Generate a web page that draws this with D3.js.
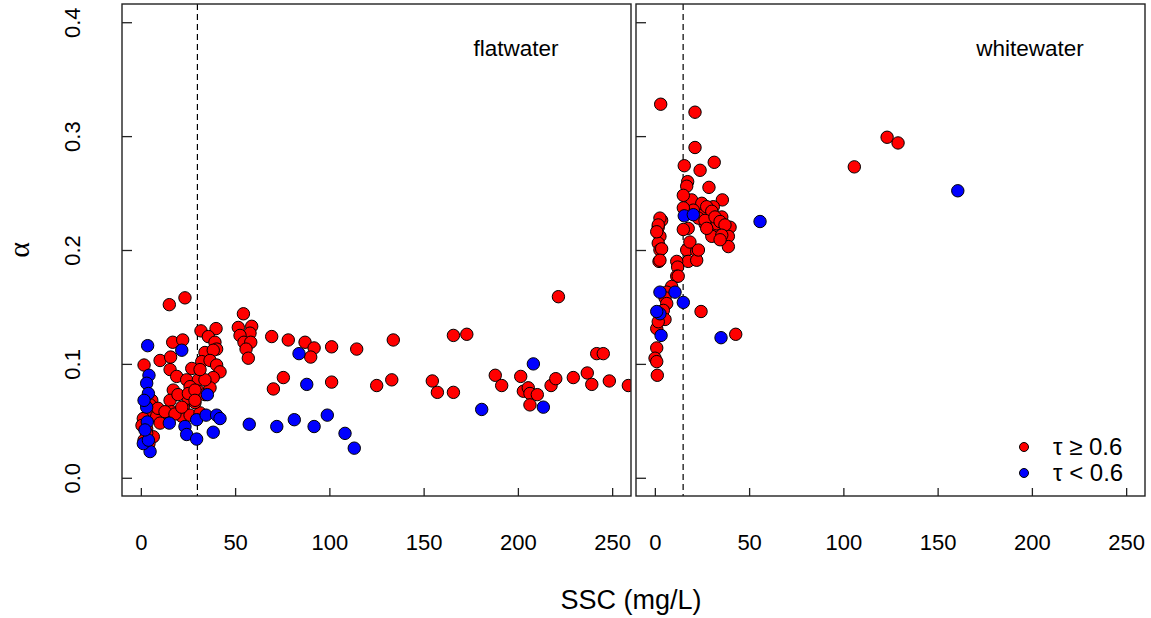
<!DOCTYPE html>
<html>
<head>
<meta charset="utf-8">
<script src="https://cdn.jsdelivr.net/npm/d3@7"></script>
<style>
  body { margin: 0; background: #fff; }
  text { font-family: "Liberation Sans", Arial, sans-serif; fill: #000; }
</style>
</head>
<body>
<div id="chart"></div>
<script>
// [SSC (mg/L), alpha] pairs
const flatHigh = [
  [15.1,0.152],[23.4,0.158],[54.4,0.144],[31.9,0.129],[39.9,0.131],[51.7,0.132],[58.8,0.133],[57.9,0.127],
  [52.6,0.125],[54.7,0.119],[58.3,0.119],[55.8,0.113],[57.0,0.105],[16.9,0.119],[22.2,0.121],[1.7,0.099],
  [10.2,0.103],[15.8,0.106],[35.8,0.124],[39.3,0.119],[40.2,0.113],[34.0,0.110],[38.4,0.112],[32.3,0.102],
  [36.7,0.103],[40.2,0.099],[27.0,0.096],[42.0,0.093],[15.5,0.095],[19.0,0.089],[24.3,0.086],[30.5,0.086],
  [38.4,0.088],[17.2,0.077],[26.1,0.080],[30.5,0.076],[5.8,0.068],[15.5,0.068],[22.5,0.062],[5.8,0.058],
  [11.9,0.057],[16.4,0.058],[1.3,0.052],[8.4,0.054],[21.7,0.054],[3.1,0.043],[6.6,0.036],[3.1,0.039],
  [0.6,0.046],[1.7,0.033],[4.3,0.030],[4.9,0.064],[9.1,0.061],[12.8,0.058],[18.1,0.056],[26.1,0.055],
  [31.4,0.057],[28.7,0.066],[25.0,0.070],[19.7,0.073],[34.0,0.073],[36.7,0.079],[34.0,0.086],[31.4,0.095],
  [25.2,0.074],[28.7,0.077],[28.7,0.068],[21.7,0.062],[10.2,0.048],
  [69.4,0.124],[78.2,0.121],[87.1,0.119],[91.9,0.114],[90.1,0.106],[101.2,0.115],[114.5,0.113],[133.9,0.121],
  [75.6,0.088],[70.3,0.078],[101.2,0.084],[125.1,0.081],[133.1,0.086],[154.6,0.085],[157.3,0.075],[221.5,0.159],
  [165.8,0.125],[172.9,0.126],[241.8,0.109],[245.3,0.109],[165.8,0.075],[188.0,0.090],[191.4,0.081],[201.5,0.089],
  [202.9,0.076],[205.5,0.079],[206.4,0.074],[210.3,0.073],[206.4,0.064],[217.6,0.081],[220.1,0.087],[229.4,0.088],
  [236.8,0.092],[239.2,0.082],[248.5,0.085],[258.6,0.081]
];
const flatLow = [
  [3.6,0.116],[21.7,0.112],[4.3,0.090],[3.1,0.083],[4.0,0.074],[3.1,0.062],[35.3,0.073],[3.4,0.049],
  [15.1,0.048],[23.4,0.045],[29.6,0.051],[34.6,0.055],[40.2,0.055],[42.0,0.052],[24.3,0.038],[29.6,0.034],
  [38.4,0.040],[57.5,0.047],[4.9,0.023],[1.3,0.030],[4.0,0.033],[1.7,0.068],[2.2,0.042],[83.9,0.109],
  [88.0,0.082],[72.1,0.045],[81.4,0.051],[91.9,0.045],[98.9,0.055],[108.3,0.039],[113.2,0.026],[208.2,0.100],
  [180.8,0.060],[213.5,0.062]
];
const whiteHigh = [
  [3.1,0.328],[21.3,0.321],[21.3,0.290],[15.6,0.274],[24.0,0.270],[31.5,0.277],[17.4,0.260],[16.9,0.256],
  [28.7,0.255],[35.8,0.244],[19.5,0.244],[15.1,0.248],[3.6,0.226],[1.8,0.220],[2.7,0.212],[1.8,0.206],
  [2.7,0.200],[2.2,0.190],[16.9,0.200],[22.2,0.199],[17.7,0.190],[22.2,0.191],[11.6,0.190],[12.1,0.185],
  [11.6,0.177],[25.7,0.234],[31.0,0.238],[35.5,0.229],[39.9,0.220],[39.0,0.212],[30.2,0.215],[32.8,0.223],
  [26.6,0.223],[39.0,0.203],[30.2,0.212],[24.9,0.241],[27.5,0.238],[30.2,0.234],[20.4,0.235],[15.1,0.237],
  [23.1,0.228],[26.6,0.226],[31.9,0.229],[34.6,0.225],[37.2,0.222],[27.5,0.219],[35.5,0.213],[34.6,0.209],
  [17.7,0.219],[15.1,0.218],[18.6,0.207],[23.1,0.200],[12.4,0.177],[8.9,0.168],[6.3,0.163],[5.4,0.158],
  [6.3,0.153],[4.5,0.147],[5.4,0.139],[1.0,0.131],[1.8,0.137],[24.5,0.146],[1.0,0.114],[0.1,0.105],
  [1.0,0.102],[1.3,0.090],[42.9,0.126],[123.2,0.299],[129.0,0.294],[105.8,0.273],[2.7,0.228],[1.8,0.222],
  [1.0,0.216],[3.6,0.201],[2.7,0.191]
];
const whiteLow = [
  [15.6,0.230],[20.4,0.231],[2.7,0.163],[10.7,0.163],[15.1,0.154],[2.7,0.144],[1.0,0.146],[3.3,0.125],
  [35.1,0.123],[160.7,0.252],[55.8,0.225]
];

const xTicks = [0, 50, 100, 150, 200, 250];
const yTicks = [0.0, 0.1, 0.2, 0.3, 0.4];
const panelNames = ["flatwater", "whitewater"];
const thresholds = [30, 15];          // dashed reference line, mg/L
const legendLabels = ["\u03c4 \u2265 0.6", "\u03c4 < 0.6"];
const highColor = "#ff0000", lowColor = "#0000ff";

const W = 1151, H = 618;
const plotTop = 4, plotBottom = 496;
const panels = [
  { left: 122, right: 631, labelX: 516, name: panelNames[0], high: flatHigh, low: flatLow, thr: thresholds[0] },
  { left: 636, right: 1145, labelX: 1030, name: panelNames[1], high: whiteHigh, low: whiteLow, thr: thresholds[1] }
];

const svg = d3.select("#chart").append("svg")
    .attr("width", W)
    .attr("height", H);

// shared y scale (R style 4% padding around 0..0.4)
const y = d3.scaleLinear().domain([-0.016, 0.416]).range([plotBottom, plotTop]);

panels.forEach((p, i) => {
    const x = d3.scaleLinear().domain([-10, 260]).range([p.left, p.right]);
    const g = svg.append("g");

    g.append("clipPath").attr("id", "clip" + i)
        .append("rect")
        .attr("x", p.left).attr("y", plotTop)
        .attr("width", p.right - p.left).attr("height", plotBottom - plotTop);

    // x axis, ticks pointing inward
    const xa = g.append("g")
        .attr("transform", `translate(0,${plotBottom})`)
        .call(d3.axisBottom(x).tickValues(xTicks).tickSizeInner(-8).tickSizeOuter(0).tickPadding(38));
    xa.select(".domain").remove();
    xa.selectAll("line").attr("stroke", "#222").attr("stroke-width", 1.3);
    xa.selectAll("text").style("font-size", "22px").attr("fill", "#000");

    // y axis
    const ya = g.append("g")
        .attr("transform", `translate(${p.left},0)`)
        .call(d3.axisLeft(y).tickValues(yTicks).tickSizeInner(-10).tickSizeOuter(0)
            .tickFormat(i === 0 ? d3.format(".1f") : ""));
    ya.select(".domain").remove();
    ya.selectAll("line").attr("stroke", "#222").attr("stroke-width", 1.3);
    ya.selectAll("text")
        .attr("x", null)
        .attr("dy", "0.35em")
        .attr("transform", "translate(-50,0) rotate(-90)")
        .attr("text-anchor", "middle")
        .style("font-size", "22px")
        .attr("fill", "#000");

    // dashed threshold
    g.append("line")
        .attr("x1", x(p.thr)).attr("x2", x(p.thr))
        .attr("y1", plotTop).attr("y2", plotBottom)
        .attr("stroke", "#000")
        .attr("stroke-width", 1.2)
        .attr("stroke-dasharray", "6,4");

    // points
    const pts = g.append("g").attr("clip-path", `url(#clip${i})`);
    const all = p.high.map(d => ({ v: d, c: highColor }))
        .concat(p.low.map(d => ({ v: d, c: lowColor })));
    pts.selectAll("circle")
        .data(all)
        .join("circle")
        .attr("cx", d => x(d.v[0]))
        .attr("cy", d => y(d.v[1]))
        .attr("r", 6.2)
        .attr("fill", d => d.c)
        .attr("stroke", "#000")
        .attr("stroke-width", 1);

    // box
    g.append("rect")
        .attr("x", p.left).attr("y", plotTop)
        .attr("width", p.right - p.left).attr("height", plotBottom - plotTop)
        .attr("fill", "none")
        .attr("stroke", "#222")
        .attr("stroke-width", 1.4);

    // panel label
    g.append("text")
        .attr("x", p.labelX)
        .attr("y", 56)
        .attr("text-anchor", "middle")
        .style("font-size", "22.5px")
        .text(p.name);
});

// axis titles
svg.append("text")
    .attr("x", 631)
    .attr("y", 609)
    .attr("text-anchor", "middle")
    .style("font-size", "27px")
    .text("SSC (mg/L)");

svg.append("text")
    .attr("transform", "translate(18,250) rotate(-90)")
    .attr("text-anchor", "middle")
    .attr("dy", "0.35em")
    .style("font-size", "30px")
    .style("font-family", "'Liberation Serif', serif")
    .text("\u03b1");

// legend
const legend = svg.append("g").attr("transform", "translate(1024,447)");
const li = legend.selectAll("g")
    .data(legendLabels)
    .join("g")
    .attr("transform", (d, i) => `translate(0,${i * 26})`);
li.append("circle")
    .attr("r", 4.5)
    .attr("fill", (d, i) => i === 0 ? highColor : lowColor)
    .attr("stroke", "#000")
    .attr("stroke-width", 1);
li.append("text")
    .attr("x", 29)
    .attr("dy", "0.35em")
    .style("font-size", "24px")
    .text(d => d);
</script>
</body>
</html>
